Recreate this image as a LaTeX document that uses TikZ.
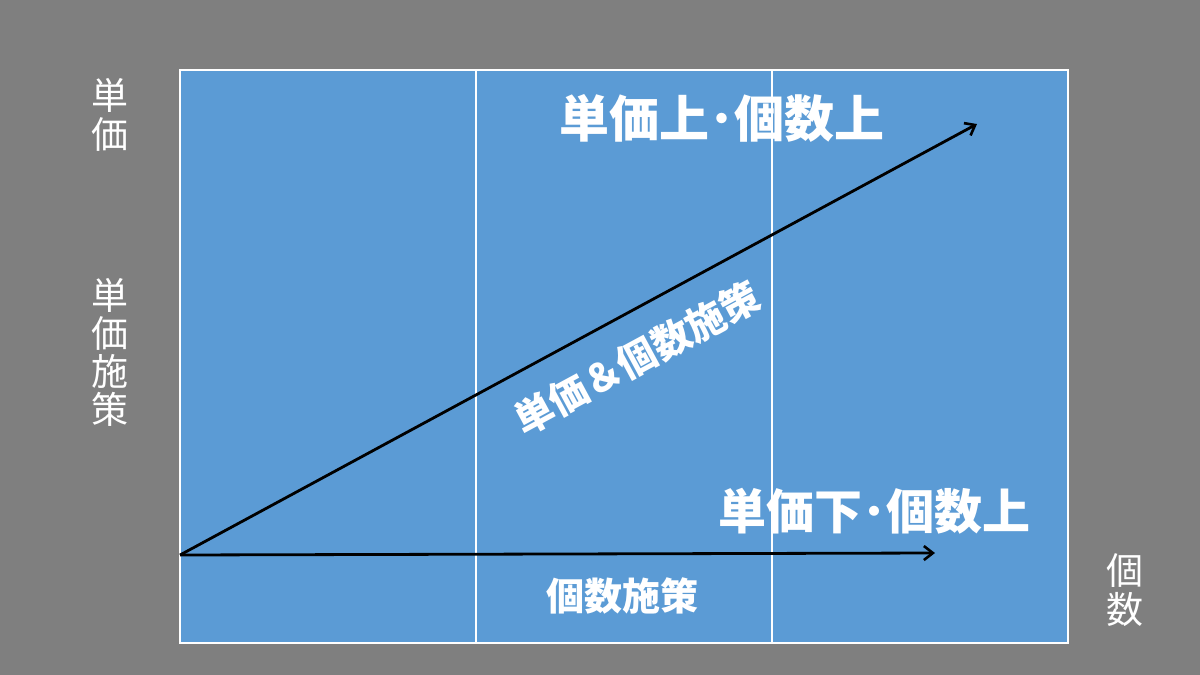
\documentclass[tikz,border=0pt]{standalone}
\usepackage{fontspec}
\newfontfamily\jp{Noto Sans CJK JP}
\usetikzlibrary{arrows.meta}
\definecolor{bggray}{HTML}{7F7F7F}
\definecolor{panelblue}{HTML}{5B9BD5}
\tikzset{
  arr/.style={line width=2.8pt, draw=black, -{Straight Barb[length=9pt,width=14pt,line width=2.6pt]}},
  title/.style={text=white, font=\jp\bfseries\fontsize{50}{55}\selectfont, inner sep=0pt},
  sub/.style={text=white, font=\jp\bfseries\fontsize{38}{42}\selectfont, inner sep=0pt},
  axis/.style={text=white, font=\jp\fontsize{37}{39.5}\selectfont, align=center, inner sep=0pt},
  grid/.style={draw=white, line width=1.6pt}
}
\begin{document}
\begin{tikzpicture}[x=1pt,y=-1pt]
\useasboundingbox (0,0) rectangle (1200,675);
\fill[bggray] (0,0) rectangle (1200,675);
\fill[panelblue] (180,70) rectangle (1068,643);
\draw[grid] (476,70) -- (476,643);
\draw[grid] (772,70) -- (772,643);
\draw[grid] (180,70) rectangle (1068,643);
\coordinate (O) at (180,555);
\coordinate (A) at (977,124);
\coordinate (B) at (935,553);
\draw[arr] (O) -- (A);
\draw[arr] (O) -- (B);
\node[title] (t1) at (722,118) {単価上･個数上};
\node[title, font=\jp\bfseries\fontsize{48}{52}\selectfont] (t2) at (874,511) {単価下･個数上};
\node[sub] (t3) at (622,596) {個数施策};
\node[sub, font=\jp\bfseries\fontsize{39}{42}\selectfont, rotate=28.4] (t4) at (637,358) {単価＆個数施策};
\node[axis] (y1) at (110,115) {単\\価};
\node[axis, font=\jp\fontsize{37}{38}\selectfont] (y2) at (110,352) {単\\価\\施\\策};
\node[axis] (x1) at (1125,590) {個\\数};
\end{tikzpicture}
\end{document}
